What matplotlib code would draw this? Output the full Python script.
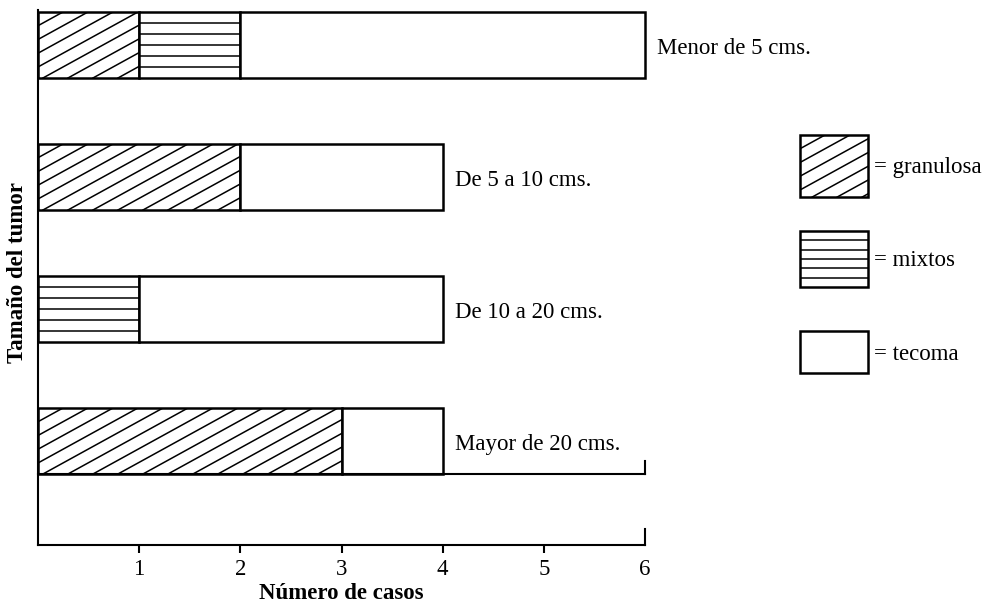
import matplotlib
matplotlib.use("Agg")
import matplotlib.pyplot as plt
from matplotlib.lines import Line2D
from matplotlib.patches import Rectangle
from matplotlib.transforms import IdentityTransform

plt.rcParams['font.family'] = ['Liberation Serif', 'DejaVu Serif']

# data: number of cases per tumour size
sizes = ['Menor de 5 cms.', 'De 5 a 10 cms.', 'De 10 a 20 cms.', 'Mayor de 20 cms.']
granulosa = [1, 2, 0, 3]
mixtos = [1, 0, 1, 0]
tecoma = [4, 2, 3, 1]
legend_labels = ['= granulosa', '= mixtos', '= tecoma']
xticks = [1, 2, 3, 4, 5, 6]

ypos = [4, 3, 2, 1]
bar_h = 0.5
lw = 1.8
fs = 16.5


def hatch(ax, patch, kind):
    # draw hatching lines in pixel space, clipped to the patch
    bb = patch.get_window_extent()
    if bb.width <= 0:
        return
    lines = []
    if kind == 'diag':
        slope = 0.55
        step = 25
        c = bb.x0 - bb.height / slope
        while c < bb.x1:
            lines.append(([c, c + bb.height / slope], [bb.y0, bb.y1]))
            c += step
    elif kind == 'horiz':
        n = 6
        for k in range(1, n):
            y = bb.y0 + k * bb.height / n
            lines.append(([bb.x0, bb.x1], [y, y]))
    for xs, ys in lines:
        ln = Line2D(xs, ys, transform=IdentityTransform(), color='black', lw=1.1)
        ax.add_line(ln)
        ln.set_clip_path(patch)


fig = plt.figure(figsize=(9.93, 6.06), dpi=100)
ax = fig.add_axes([38 / 993, 61 / 606, (645 - 38) / 993, (596 - 61) / 606])
ax.set_xlim(0, 6)
ax.set_ylim(0.212, 4.265)

left = [0] * len(sizes)
b1 = ax.barh(ypos, granulosa, height=bar_h, left=left, color='white',
             edgecolor='black', linewidth=lw, zorder=2, clip_on=False)
left2 = [a for a in granulosa]
b2 = ax.barh(ypos, mixtos, height=bar_h, left=left2, color='white',
             edgecolor='black', linewidth=lw, zorder=2, clip_on=False)
left3 = [a + b for a, b in zip(granulosa, mixtos)]
b3 = ax.barh(ypos, tecoma, height=bar_h, left=left3, color='white',
             edgecolor='black', linewidth=lw, zorder=2, clip_on=False)

for p in b1.patches:
    hatch(ax, p, 'diag')
for p in b2.patches:
    hatch(ax, p, 'horiz')

# remove zero-width bars so they leave no stray edges
for cont, vals in [(b1, granulosa), (b2, mixtos), (b3, tecoma)]:
    for p, v in zip(cont.patches, vals):
        if v == 0:
            p.set_visible(False)

totals = [a + b + c for a, b, c in zip(granulosa, mixtos, tecoma)]
for y, t, lab in zip(ypos, totals, sizes):
    ax.text(t + 0.12, y - 0.03, lab, fontsize=fs, va='center', ha='left',
            clip_on=False)

# baseline under the last bar, with an upturned end
ybase = ypos[-1] - bar_h / 2
ax.plot([0, 6], [ybase, ybase], color='black', lw=1.5, clip_on=False)
ax.plot([6, 6], [ybase, ybase + 0.1], color='black', lw=1.5, clip_on=False)
ax.plot([6, 6], [0.212, 0.212 + 0.12], color='black', lw=1.5, clip_on=False)

for s in ['top', 'right']:
    ax.spines[s].set_visible(False)
ax.spines['left'].set_linewidth(1.5)
ax.spines['bottom'].set_linewidth(1.5)
ax.set_yticks([])
ax.set_xticks(xticks)
ax.set_xticklabels([str(v) for v in xticks], fontsize=fs)
ax.tick_params(axis='x', direction='out', length=6, width=1.5, pad=4)
ax.xaxis.get_major_ticks()[-1].tick1line.set_visible(False)
ax.set_xlabel('Número de casos', fontsize=fs, fontweight='bold', labelpad=2)
ax.set_ylabel('Tamaño del tumor', fontsize=fs, fontweight='bold')
ax.yaxis.set_label_coords(-0.016, 0.51)

# legend drawn on an overlay in pixel units
lax = fig.add_axes([0, 0, 1, 1])
lax.set_xlim(0, 993)
lax.set_ylim(606, 0)
lax.axis('off')
boxes = [(800, 135, 68, 62), (800, 231, 68, 56), (800, 331, 68, 42)]
kinds = ['diag', 'horiz', None]
for (bx, by, bw, bh), kind, lab in zip(boxes, kinds, legend_labels):
    r = Rectangle((bx, by), bw, bh, facecolor='white', edgecolor='black', lw=lw)
    lax.add_patch(r)
    if kind:
        hatch(lax, r, kind)
    lax.text(bx + bw + 6, by + bh / 2 + 2, lab, fontsize=fs, va='center', ha='left')

fig.savefig('out.png', dpi=100)
